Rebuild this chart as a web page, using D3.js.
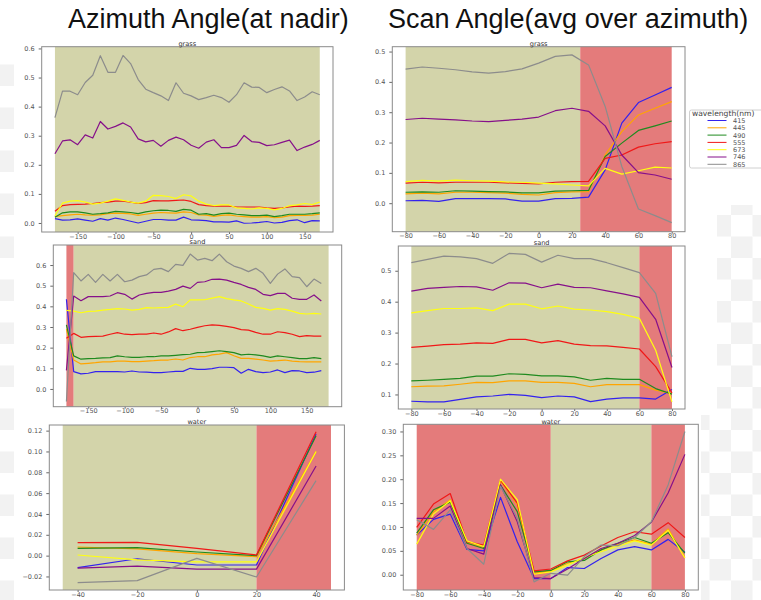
<!DOCTYPE html>
<html lang="en">
<head>
	<meta charset="utf-8">
	<title>azimuth and scan angle reflectance</title>
	<script src="https://d3js.org/d3.v7.min.js"></script>
	<style>
		body{margin:0;background:#fff;}
		svg{display:block;}
		.tick text{font-family:"DejaVu Sans",sans-serif;font-size:6.5px;fill:#555;}
		.tick line{stroke:#666;}
		.domain{display:none;}
		.ptitle{font-family:"DejaVu Sans",sans-serif;font-size:6.6px;fill:#333;text-anchor:middle;}
		.big{font-family:"Liberation Sans",Arial,sans-serif;font-size:27px;fill:#111;}
		.leg{font-family:"DejaVu Sans",sans-serif;fill:#444;}
	</style>
</head>
<body>
<div id="chart"></div>
<script>
// wavelengths in the legend, one series per wavelength
var wavelengths = ["415","445","490","555","673","746","865"]
var lineColors = ["#3322ee","#ffa500","#1f8a1f","#f01818","#ffff10","#86108a","#8c8c8c"]

var azimuthAngles = [-180,-170,-160,-150,-140,-130,-120,-110,-100,-90,-80,-70,-60,-50,-40,-30,-20,-10,0,10,20,30,40,50,60,70,80,90,100,110,120,130,140,150,160,170]
var scanAngles = [-80,-70,-60,-50,-40,-30,-20,-10,0,10,20,30,40,50,60,70,80]
var waterAzAngles = [-40,-20,0,20,40]

var grassAz = [
	[0.015,0.010,0.011,0.014,0.010,0.006,0.015,0.010,0.017,0.012,0.006,0.000,0.006,0.012,0.012,0.010,0.010,0.020,0.011,0.010,0.008,0.004,0.004,0.003,0.007,-0.001,0.000,0.002,0.005,0.000,0.002,0.008,0.011,0.001,0.008,0.007],
	[0.022,0.025,0.028,0.030,0.028,0.027,0.028,0.032,0.034,0.033,0.031,0.026,0.030,0.034,0.036,0.035,0.034,0.038,0.036,0.028,0.027,0.023,0.026,0.028,0.024,0.022,0.020,0.020,0.022,0.018,0.020,0.025,0.026,0.026,0.027,0.030],
	[0.020,0.035,0.038,0.038,0.035,0.030,0.032,0.035,0.040,0.038,0.036,0.032,0.038,0.042,0.044,0.043,0.040,0.047,0.044,0.030,0.032,0.027,0.032,0.034,0.030,0.028,0.025,0.025,0.027,0.022,0.025,0.030,0.030,0.030,0.032,0.035],
	[0.040,0.060,0.063,0.064,0.065,0.067,0.070,0.072,0.075,0.075,0.072,0.067,0.070,0.077,0.076,0.076,0.078,0.079,0.074,0.063,0.060,0.058,0.058,0.058,0.055,0.055,0.055,0.055,0.052,0.050,0.052,0.055,0.058,0.057,0.058,0.060],
	[0.025,0.068,0.075,0.077,0.072,0.065,0.068,0.075,0.083,0.078,0.072,0.068,0.075,0.095,0.094,0.091,0.084,0.097,0.093,0.075,0.065,0.060,0.062,0.062,0.052,0.050,0.048,0.052,0.050,0.045,0.050,0.060,0.062,0.067,0.063,0.072],
	[0.238,0.282,0.286,0.269,0.303,0.292,0.349,0.323,0.332,0.344,0.330,0.289,0.279,0.284,0.264,0.284,0.295,0.286,0.267,0.257,0.278,0.286,0.259,0.259,0.267,0.301,0.280,0.277,0.266,0.269,0.277,0.285,0.249,0.261,0.270,0.284],
	[0.362,0.453,0.453,0.441,0.483,0.508,0.575,0.518,0.518,0.576,0.548,0.493,0.460,0.448,0.437,0.421,0.482,0.446,0.437,0.424,0.431,0.439,0.431,0.415,0.441,0.482,0.467,0.466,0.448,0.459,0.468,0.454,0.421,0.433,0.451,0.441]
]
var grassScan = [
	[0.008,0.009,0.006,0.015,0.015,0.015,0.014,0.007,0.007,0.015,0.016,0.020,0.110,0.264,0.332,0.357,0.382],
	[0.031,0.033,0.031,0.036,0.036,0.035,0.033,0.029,0.027,0.035,0.037,0.038,0.159,0.236,0.291,0.313,0.335],
	[0.036,0.037,0.036,0.041,0.040,0.038,0.037,0.034,0.034,0.040,0.041,0.042,0.154,0.198,0.240,0.255,0.271],
	[0.066,0.069,0.067,0.069,0.069,0.069,0.067,0.065,0.064,0.069,0.071,0.072,0.148,0.159,0.185,0.196,0.203],
	[0.071,0.075,0.073,0.076,0.074,0.073,0.070,0.069,0.066,0.064,0.060,0.057,0.115,0.096,0.107,0.119,0.116],
	[0.276,0.280,0.277,0.275,0.271,0.269,0.273,0.277,0.284,0.305,0.313,0.303,0.255,0.159,0.101,0.093,0.079],
	[0.442,0.449,0.445,0.440,0.433,0.429,0.434,0.443,0.462,0.484,0.489,0.456,0.319,0.121,-0.019,-0.041,-0.064]
]
var sandAz = [
	[0.434,0.084,0.073,0.076,0.084,0.084,0.084,0.084,0.082,0.087,0.082,0.081,0.079,0.079,0.082,0.085,0.085,0.100,0.095,0.095,0.098,0.105,0.105,0.103,0.076,0.095,0.084,0.079,0.082,0.092,0.079,0.089,0.087,0.079,0.081,0.089],
	[0.290,0.140,0.121,0.124,0.127,0.131,0.131,0.135,0.135,0.132,0.132,0.135,0.137,0.140,0.140,0.145,0.140,0.152,0.156,0.156,0.165,0.169,0.176,0.161,0.148,0.148,0.144,0.140,0.135,0.137,0.140,0.135,0.132,0.131,0.131,0.131],
	[0.310,0.160,0.144,0.147,0.148,0.150,0.152,0.160,0.156,0.153,0.153,0.156,0.156,0.160,0.160,0.163,0.166,0.168,0.176,0.177,0.181,0.185,0.181,0.176,0.165,0.168,0.165,0.160,0.153,0.160,0.156,0.152,0.147,0.147,0.152,0.147],
	[0.245,0.269,0.250,0.253,0.255,0.256,0.265,0.273,0.265,0.263,0.265,0.265,0.271,0.265,0.276,0.292,0.282,0.289,0.298,0.306,0.310,0.308,0.303,0.297,0.287,0.285,0.274,0.265,0.265,0.277,0.273,0.265,0.253,0.258,0.256,0.256],
	[0.380,0.377,0.369,0.376,0.377,0.382,0.385,0.389,0.387,0.382,0.385,0.394,0.392,0.394,0.395,0.411,0.398,0.431,0.431,0.432,0.440,0.447,0.437,0.431,0.426,0.411,0.395,0.390,0.382,0.389,0.385,0.377,0.366,0.363,0.366,0.363],
	[0.090,0.450,0.427,0.447,0.447,0.447,0.450,0.466,0.458,0.435,0.455,0.463,0.468,0.468,0.474,0.482,0.498,0.487,0.516,0.519,0.531,0.532,0.527,0.516,0.506,0.492,0.482,0.458,0.452,0.463,0.463,0.439,0.434,0.434,0.455,0.426],
	[-0.061,0.563,0.523,0.555,0.516,0.555,0.523,0.555,0.519,0.527,0.544,0.552,0.579,0.584,0.568,0.603,0.598,0.653,0.624,0.632,0.621,0.653,0.616,0.595,0.584,0.568,0.584,0.560,0.511,0.556,0.581,0.544,0.539,0.495,0.532,0.511]
]
var sandScan = [
	[0.078,0.076,0.076,0.084,0.092,0.095,0.100,0.097,0.090,0.095,0.092,0.077,0.085,0.089,0.089,0.085,0.116],
	[0.125,0.127,0.128,0.133,0.139,0.138,0.144,0.144,0.139,0.139,0.136,0.125,0.132,0.132,0.132,0.114,0.103],
	[0.144,0.146,0.149,0.152,0.159,0.159,0.167,0.165,0.160,0.160,0.157,0.146,0.152,0.149,0.149,0.119,0.101],
	[0.252,0.256,0.261,0.263,0.267,0.265,0.278,0.278,0.267,0.274,0.263,0.258,0.257,0.252,0.247,0.190,0.105],
	[0.364,0.371,0.378,0.378,0.380,0.371,0.392,0.392,0.377,0.386,0.376,0.373,0.368,0.359,0.346,0.243,0.076],
	[0.434,0.443,0.446,0.449,0.448,0.437,0.461,0.460,0.445,0.457,0.446,0.445,0.435,0.425,0.414,0.343,0.187],
	[0.526,0.537,0.547,0.545,0.539,0.524,0.556,0.553,0.528,0.550,0.539,0.539,0.526,0.510,0.494,0.427,0.222]
]
var waterAz = [
	[-0.0115,-0.003,-0.009,-0.009,0.117],
	[0.0083,0.0064,0.002,-0.001,0.100],
	[0.007,0.0077,0.0035,0.000,0.115],
	[0.0125,0.0128,0.007,0.0006,0.119],
	[0.0006,-0.004,-0.006,-0.006,0.100],
	[-0.012,-0.010,-0.013,-0.013,0.086],
	[-0.026,-0.024,-0.0026,-0.0205,0.072]
]
var waterScan = [
	[0.083,0.116,0.127,0.053,0.050,0.162,0.069,-0.008,-0.008,0.015,0.013,0.034,0.052,0.059,0.052,0.074,0.047],
	[0.083,0.132,0.157,0.067,0.057,0.197,0.146,0.003,0.008,0.024,0.034,0.052,0.064,0.073,0.064,0.096,0.036],
	[0.087,0.136,0.152,0.066,0.055,0.188,0.132,0.006,0.009,0.027,0.030,0.052,0.066,0.078,0.066,0.088,0.045],
	[0.099,0.148,0.170,0.069,0.062,0.198,0.150,0.008,0.012,0.029,0.041,0.060,0.078,0.090,0.085,0.109,0.078],
	[0.064,0.127,0.155,0.071,0.059,0.200,0.157,0.001,0.006,0.020,0.036,0.048,0.060,0.071,0.062,0.093,0.035],
	[0.118,0.118,0.144,0.055,0.043,0.188,0.111,-0.006,-0.008,0.012,0.034,0.055,0.066,0.082,0.110,0.171,0.252],
	[0.115,0.095,0.136,0.055,0.022,0.185,0.118,-0.015,0.003,-0.001,0.038,0.062,0.061,0.078,0.111,0.188,0.300]
]

// shaded angle ranges: [from, to, kind]  o = olive, r = red
var grassAzSpans = [[-180,170,"o"]]
var grassScanSpans = [[-80,25,"o"],[25,80,"r"]]
var sandAzSpans = [[-180,-170,"r"],[-170,180,"o"]]
var sandScanSpans = [[-80,60,"o"],[60,80,"r"]]
var waterAzSpans = [[-45,20,"o"],[20,45,"r"]]
var waterScanSpans = [[-80,0,"r"],[0,60,"o"],[60,80,"r"]]

var olive = "#d3d4aa"
var red = "#e47b7b"

var W = 761, H = 600
var svg = d3.select("#chart").append("svg").attr("width",W).attr("height",H)
svg.append("rect").attr("width",W).attr("height",H).attr("fill","#fff")

// faint transparency checker showing round the pasted images
function checker(x0,y0,x1,y1){
	var c = 21.5
	for(var i=Math.floor(x0/c); i*c<x1; i++){
		for(var j=Math.floor(y0/c); j*c<y1; j++){
			if((i+j)%2==0) continue
			var xa = Math.max(i*c,x0), ya = Math.max(j*c,y0)
			svg.append("rect").attr("x",xa).attr("y",ya)
				.attr("width",Math.min((i+1)*c,x1)-xa).attr("height",Math.min((j+1)*c,y1)-ya)
				.attr("fill","#f2f2f2")
		}
	}
}
checker(0,45,14,600)
checker(717,205,761,415)
checker(701,415,761,600)

svg.append("text").attr("class","big").attr("x",68).attr("y",28).text("Azimuth Angle(at nadir)")
svg.append("text").attr("class","big").attr("x",388).attr("y",28).text("Scan Angle(avg over azimuth)")

var panels = [
	{title:"grass", angles:azimuthAngles, series:grassAz, spans:grassAzSpans, left:41.7, right:333, top:46.7, bottom:232,
		xDomain:[-197.5,187.5], yDomain:[-0.031,0.606], xTicks:[-150,-100,-50,0,50,100,150], yTicks:[0,0.1,0.2,0.3,0.4,0.5,0.6], yFmt:".1f"},
	{title:"grass", angles:scanAngles, series:grassScan, spans:grassScanSpans, left:392.3, right:685, top:46.7, bottom:231.7,
		xDomain:[-88,88], yDomain:[-0.094,0.516], xTicks:[-80,-60,-40,-20,0,20,40,60,80], yTicks:[0,0.1,0.2,0.3,0.4,0.5], yFmt:".1f", legend:true},
	{title:"sand", angles:azimuthAngles, series:sandAz, spans:sandAzSpans, left:53.3, right:341.7, top:245, bottom:406.7,
		xDomain:[-198,198], yDomain:[-0.086,0.697], xTicks:[-150,-100,-50,0,50,100,150], yTicks:[0,0.1,0.2,0.3,0.4,0.5,0.6], yFmt:".1f"},
	{title:"sand", angles:scanAngles, series:sandScan, spans:sandScanSpans, left:398.3, right:685, top:246, bottom:409,
		xDomain:[-88,88], yDomain:[0.053,0.58], xTicks:[-80,-60,-40,-20,0,20,40,60,80], yTicks:[0.1,0.2,0.3,0.4,0.5], yFmt:".1f"},
	{title:"water", angles:waterAzAngles, series:waterAz, spans:waterAzSpans, left:49.3, right:344.4, top:425, bottom:590,
		xDomain:[-49.5,49.5], yDomain:[-0.033,0.1254], xTicks:[-40,-20,0,20,40], yTicks:[-0.02,0,0.02,0.04,0.06,0.08,0.10,0.12], yFmt:".2f"},
	{title:"water", angles:scanAngles, series:waterScan, spans:waterScanSpans, left:403.3, right:698.3, top:424.3, bottom:590,
		xDomain:[-88,88], yDomain:[-0.032,0.315], xTicks:[-80,-60,-40,-20,0,20,40,60,80], yTicks:[0,0.05,0.10,0.15,0.20,0.25,0.30], yFmt:".2f"}
]

function drawPanel(p){
	var x = d3.scaleLinear().domain(p.xDomain).range([p.left,p.right])
	var y = d3.scaleLinear().domain(p.yDomain).range([p.bottom,p.top])
	var g = svg.append("g")

	g.selectAll(".span")
		.data(p.spans)
		.enter()
		.append("rect")
		.attr("x",function(d){ return x(d[0]) })
		.attr("width",function(d){ return x(d[1])-x(d[0]) })
		.attr("y",p.top)
		.attr("height",p.bottom-p.top)
		.attr("fill",function(d){ return d[2]=="r" ? red : olive })

	var line = d3.line()
		.x(function(d,i){ return x(p.angles[i]) })
		.y(function(d){ return y(d) })

	g.selectAll(".series")
		.data(p.series)
		.enter()
		.append("path")
		.attr("d",line)
		.attr("fill","none")
		.attr("stroke",function(d,i){ return lineColors[i] })
		.attr("stroke-width",1.2)
		.attr("stroke-linejoin","round")

	g.append("g")
		.attr("transform","translate(0,"+p.bottom+")")
		.call(d3.axisBottom(x).tickValues(p.xTicks).tickSize(2).tickPadding(0).tickFormat(d3.format("d")))
	g.append("g")
		.attr("transform","translate("+p.left+",0)")
		.call(d3.axisLeft(y).tickValues(p.yTicks).tickSize(3).tickPadding(4).tickFormat(d3.format(p.yFmt)))

	g.append("rect")
		.attr("x",p.left).attr("y",p.top)
		.attr("width",p.right-p.left).attr("height",p.bottom-p.top)
		.attr("fill","none").attr("stroke","#8a8a8a").attr("stroke-width",1)

	g.append("text").attr("class","ptitle")
		.attr("x",(p.left+p.right)/2).attr("y",p.top-0.8)
		.text(p.title)

	if(p.legend){
		var lg = g.append("g").attr("transform","translate(689.5,110)")
		lg.append("rect").attr("width",90).attr("height",58).attr("rx",2)
			.attr("fill","#fff").attr("stroke","#d0d0d0")
		lg.append("text").attr("class","leg").attr("x",2.5).attr("y",6)
			.style("font-size","7.6px")
			.text("wavelength(nm)")
		var rows = lg.selectAll(".row").data(wavelengths).enter().append("g")
			.attr("transform",function(d,i){ return "translate(0,"+(10.5+i*7.3)+")" })
		rows.append("line").attr("x1",18).attr("x2",37)
			.attr("stroke",function(d,i){ return lineColors[i] }).attr("stroke-width",1)
		rows.append("text").attr("class","leg").attr("x",43.5).attr("y",2.4)
			.style("font-size","6.5px").style("fill","#555")
			.text(function(d){ return d })
	}
}

panels.forEach(drawPanel)
</script>
</body>
</html>
